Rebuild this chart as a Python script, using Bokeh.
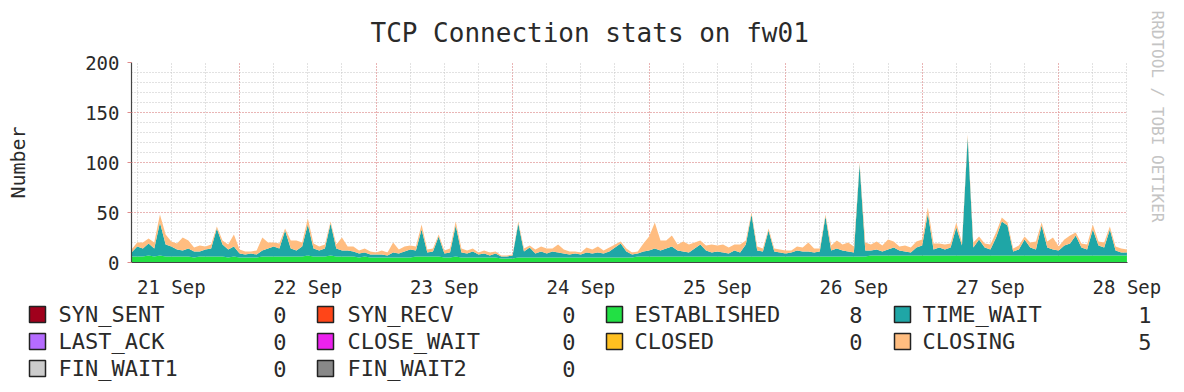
from bokeh.plotting import figure
from bokeh.models import FixedTicker, Range1d, Title, ColumnDataSource
from bokeh.embed import file_html
from bokeh.resources import INLINE
from bokeh.core.properties import value

# ---------------- data ----------------
# hours relative to 21 Sep 00:00
hours = list(range(-7, 169))

day_ticks = [0, 24, 48, 72, 96, 120, 144, 168]
day_labels = ["21 Sep", "22 Sep", "23 Sep", "24 Sep", "25 Sep", "26 Sep", "27 Sep", "28 Sep"]
major_grid_hours = [12, 36, 60, 84, 108, 132, 156]
minor_grid_hours = [-6, 0, 6, 12, 18, 24, 30, 36, 42, 48, 54, 60, 66, 72, 78, 84, 90, 96,
                    102, 108, 114, 120, 126, 132, 138, 144, 150, 156, 162, 168]
y_ticks = [0, 50, 100, 150, 200]
y_minor = [0, 10, 20, 30, 40, 50, 60, 70, 80, 90, 100, 110, 120, 130, 140, 150, 160, 170, 180, 190, 200]

established = [
    6, 6, 6, 7, 6, 7, 6, 6, 6, 6,
    6, 5, 6, 6, 6, 6, 6, 5, 6, 5,
    5, 5, 5, 6, 6, 6, 6, 6, 6, 6,
    6, 7, 6, 6, 6, 7, 6, 6, 6, 6,
    5, 6, 5, 5, 5, 5, 5, 5, 5, 5,
    6, 6, 6, 6, 6, 5, 5, 6, 5, 5,
    5, 5, 5, 5, 5, 4, 4, 4, 5, 5,
    5, 5, 5, 5, 5, 5, 5, 5, 5, 5,
    5, 5, 5, 5, 5, 5, 5, 5, 5, 6,
    6, 6, 6, 6, 6, 6, 6, 6, 6, 6,
    6, 6, 6, 6, 6, 6, 6, 6, 6, 6,
    6, 6, 6, 6, 6, 6, 6, 6, 6, 6,
    6, 6, 6, 6, 6, 6, 6, 6, 6, 6,
    7, 7, 7, 7, 7, 7, 7, 7, 7, 7,
    7, 7, 7, 7, 7, 7, 7, 7, 7, 7,
    7, 7, 7, 7, 7, 7, 7, 7, 7, 7,
    7, 7, 7, 7, 7, 7, 7, 7, 7, 7,
    7, 7, 7, 7, 7, 7,
]

time_wait = [
    4, 10, 8, 12, 8, 33, 12, 10, 7, 6,
    8, 6, 5, 7, 8, 28, 12, 8, 10, 4,
    3, 4, 3, 6, 8, 10, 8, 26, 8, 6,
    10, 31, 8, 6, 8, 32, 8, 6, 6, 5,
    4, 4, 3, 3, 3, 2, 5, 4, 6, 8,
    6, 27, 4, 5, 20, 4, 5, 31, 5, 4,
    6, 3, 4, 2, 4, 2, 2, 3, 34, 6,
    10, 4, 6, 4, 6, 5, 4, 3, 4, 3,
    5, 4, 5, 4, 6, 10, 14, 6, 3, 3,
    5, 6, 8, 6, 8, 10, 6, 5, 4, 8,
    12, 6, 4, 5, 4, 3, 6, 4, 12, 42,
    6, 5, 26, 5, 4, 3, 4, 6, 5, 5,
    4, 5, 40, 6, 8, 6, 5, 4, 92, 6,
    5, 6, 4, 6, 8, 5, 4, 3, 8, 10,
    42, 6, 8, 6, 8, 28, 10, 118, 8, 16,
    8, 6, 18, 34, 30, 4, 6, 16, 8, 6,
    30, 8, 6, 5, 10, 12, 20, 8, 6, 26,
    10, 8, 26, 5, 3, 3,
]

closing = [
    3, 4, 6, 5, 6, 8, 10, 5, 6, 13,
    8, 4, 6, 3, 4, 2, 4, 5, 12, 4,
    3, 2, 4, 13, 6, 4, 5, 2, 8, 10,
    4, 6, 5, 4, 4, 2, 4, 13, 4, 5,
    3, 4, 3, 2, 4, 3, 10, 4, 5, 4,
    4, 5, 3, 3, 2, 3, 4, 4, 4, 3,
    3, 2, 3, 3, 2, 1, 1, 1, 2, 3,
    2, 4, 5, 5, 3, 8, 4, 3, 2, 2,
    5, 4, 6, 3, 4, 3, 2, 3, 2, 2,
    8, 14, 26, 10, 8, 11, 6, 10, 8, 6,
    4, 5, 8, 6, 8, 6, 6, 8, 4, 2,
    4, 3, 2, 3, 3, 3, 2, 4, 4, 9,
    4, 3, 2, 5, 8, 6, 9, 6, 2, 8,
    6, 8, 6, 10, 6, 4, 6, 5, 6, 6,
    6, 6, 4, 5, 4, 5, 3, 3, 5, 3,
    4, 5, 5, 4, 3, 3, 4, 3, 5, 8,
    3, 6, 12, 4, 6, 8, 3, 4, 5, 5,
    4, 5, 3, 4, 4, 3,
]

zero_series = [0] * len(hours)

stack_order = ["SYN_SENT", "SYN_RECV", "ESTABLISHED", "TIME_WAIT", "LAST_ACK",
               "CLOSE_WAIT", "CLOSED", "CLOSING", "FIN_WAIT1", "FIN_WAIT2"]
series_values = {
    "SYN_SENT": zero_series, "SYN_RECV": zero_series, "ESTABLISHED": established,
    "TIME_WAIT": time_wait, "LAST_ACK": zero_series, "CLOSE_WAIT": zero_series,
    "CLOSED": zero_series, "CLOSING": closing, "FIN_WAIT1": zero_series, "FIN_WAIT2": zero_series,
}
series_colors = {
    "SYN_SENT": "#a0001c", "SYN_RECV": "#ff4518", "ESTABLISHED": "#22e044",
    "TIME_WAIT": "#1fa6a6", "LAST_ACK": "#b56cff", "CLOSE_WAIT": "#ec22ee",
    "CLOSED": "#ffc020", "CLOSING": "#ffbd80", "FIN_WAIT1": "#cccccc", "FIN_WAIT2": "#888888",
}
legend_rows = [
    ["SYN_SENT", "SYN_RECV", "ESTABLISHED", "TIME_WAIT"],
    ["LAST_ACK", "CLOSE_WAIT", "CLOSED", "CLOSING"],
    ["FIN_WAIT1", "FIN_WAIT2"],
]
current_values = {
    "SYN_SENT": "0", "SYN_RECV": "0", "ESTABLISHED": "8", "TIME_WAIT": "1",
    "LAST_ACK": "0", "CLOSE_WAIT": "0", "CLOSED": "0", "CLOSING": "5",
    "FIN_WAIT1": "0", "FIN_WAIT2": "0",
}

title_text = "TCP Connection stats on fw01"
y_label_text = "Number"
watermark_text = "RRDTOOL / TOBI OETIKER"

# ---------------- layout ----------------
MONO = "DejaVu Sans Mono"
TXT = "#2a2a2a"
W = 1184
H1 = 300
H2 = 92
FL, FR, FT, FB = 131, 1129, 62, 263
X0, X1 = -7, 168.1
Y0, Y1 = 0, 200

p = figure(width=W, height=H1, x_range=Range1d(X0, X1), y_range=Range1d(Y0, Y1),
           output_backend="svg", toolbar_location=None,
           min_border_left=FL, min_border_right=W - FR, min_border_top=FT,
           min_border_bottom=H1 - FB,
           background_fill_color="white", border_fill_color="white",
           outline_line_color=None)

src = ColumnDataSource(dict(h=hours, **series_values))
p.varea_stack(stackers=stack_order, x="h", source=src,
              color=[series_colors[n] for n in stack_order])

# title
p.title.text = title_text
p.title.text_font = MONO
p.title.text_font_size = "26px"
p.title.text_font_style = "normal"
p.title.text_color = TXT
p.title.align = "left"
p.title.vertical_align = "bottom"
p.title.offset = 370 - FL
p.title.standoff = 30

# watermark on the right
p.add_layout(Title(text=watermark_text, align="left", offset=-52, vertical_align="top",
                   text_font=MONO, text_font_size="16px", text_font_style="normal",
                   text_color="#c4c4c4", standoff=36), "right")

# axes
p.xaxis.ticker = FixedTicker(ticks=day_ticks)
p.xaxis.major_label_overrides = {t: lab for t, lab in zip(day_ticks, day_labels)}
p.yaxis.ticker = FixedTicker(ticks=y_ticks)
for ax in (p.xaxis, p.yaxis):
    ax.major_label_text_font = MONO
    ax.major_label_text_font_size = "19px"
    ax.major_label_text_color = TXT
    ax.axis_line_color = "#444444"
    ax.axis_line_width = 1.2
    ax.minor_tick_line_color = None
p.xaxis.major_tick_line_color = None
p.xaxis.major_label_standoff = 7
p.yaxis.major_tick_out = 4
p.yaxis.major_tick_in = 0
p.yaxis.major_tick_line_color = "#e08a8a"
p.yaxis.major_label_standoff = 8
p.yaxis.axis_label = y_label_text
p.yaxis.axis_label_text_font = MONO
p.yaxis.axis_label_text_font_size = "20px"
p.yaxis.axis_label_text_font_style = "normal"
p.yaxis.axis_label_text_color = TXT
p.yaxis.axis_label_standoff = 52

# grids
p.xgrid.ticker = FixedTicker(ticks=major_grid_hours, minor_ticks=minor_grid_hours)
p.ygrid.ticker = FixedTicker(ticks=y_ticks, minor_ticks=y_minor)
for g in (p.xgrid, p.ygrid):
    g.grid_line_color = "#f08888"
    g.grid_line_dash = "1 2"
    g.grid_line_width = 1
    g.minor_grid_line_color = "#c4c4c4"
    g.minor_grid_line_dash = "1 2"
    g.minor_grid_line_width = 1

# ---------------- legend (separate root, no frame alignment) ----------------
p2 = figure(width=W, height=H2, x_range=Range1d(0, W), y_range=Range1d(H2, 0),
            output_backend="svg", toolbar_location=None, min_border=0,
            x_axis_type=None, y_axis_type=None, outline_line_color=None,
            background_fill_color="white", border_fill_color="white")
p2.xgrid.visible = False
p2.ygrid.visible = False

swatch_x = [37, 325, 614, 902]
text_x = [58, 347, 634, 922]
val_x = [286, 575, 862, 1151]
row_y = [14, 41, 68]

sw_x, sw_y, sw_c, tx, ty, tt, vx, vy, vt = [], [], [], [], [], [], [], [], []
for r, row in enumerate(legend_rows):
    for c, name in enumerate(row):
        sw_x.append(swatch_x[c]); sw_y.append(row_y[r]); sw_c.append(series_colors[name])
        tx.append(text_x[c]); ty.append(row_y[r]); tt.append(name)
        vx.append(val_x[c]); vy.append(row_y[r]); vt.append(current_values[name])

p2.rect(x=sw_x, y=sw_y, width=16, height=16, fill_color=sw_c, line_color="#222222",
        line_width=1.5)
p2.text(x=tx, y=ty, text=tt, text_font=value(MONO), text_font_size="22px",
        text_color=TXT, text_align="left", text_baseline="middle")
p2.text(x=vx, y=vy, text=vt, text_font=value(MONO), text_font_size="22px",
        text_color=TXT, text_align="right", text_baseline="middle")

open("out.html", "w").write(file_html([p, p2], INLINE))
